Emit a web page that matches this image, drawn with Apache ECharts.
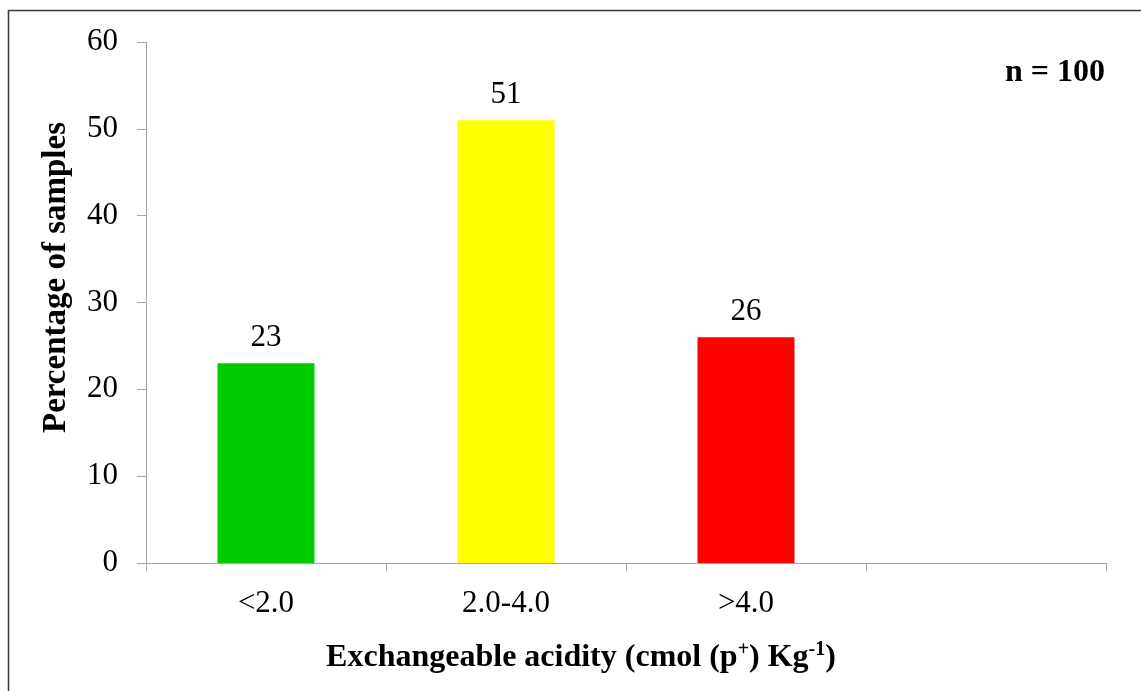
<!DOCTYPE html>
<html>
<head>
<meta charset="utf-8">
<script src="https://cdn.jsdelivr.net/npm/echarts@6/dist/echarts.min.js"></script>
<style>html,body{margin:0;padding:0;background:#fff}#c{width:1141px;height:691px}</style>
</head>
<body>
<div id="c"></div>
<script>
var categories = ['<2.0', '2.0-4.0', '>4.0', ''];
var values = [23, 51, 26];
var barColors = ['#00cc00', '#ffff00', '#ff0000'];
var yTicks = [0, 10, 20, 30, 40, 50, 60];
var sampleNote = 'n = 100';

var FONT = '"Liberation Serif", "Times New Roman", serif';
var chart = echarts.init(document.getElementById('c'), null, {renderer: 'canvas'});
var data = values.map(function (v, i) {
  return {value: v, itemStyle: {color: barColors[i]}};
});
chart.setOption({
  animation: false,
  backgroundColor: '#ffffff',
  grid: {left: 146, top: 42, right: 35, bottom: 128, containLabel: false},
  xAxis: {
    type: 'category',
    data: categories,
    boundaryGap: true,
    axisLine: {show: true, lineStyle: {color: '#a6a6a6', width: 1}},
    axisTick: {show: true, interval: 0, length: 8, lineStyle: {color: '#a6a6a6'}},
    axisLabel: {interval: 0, margin: 25, fontFamily: FONT, fontSize: 31, color: '#000'},
    name: '{b|Exchangeable acidity (cmol (p}{s|+}{b|) Kg}{s|-1}{b|)}',
    nameLocation: 'middle',
    nameGap: 77,
    nameTextStyle: {
      fontFamily: FONT,
      padding: [0, 90, 0, 0],
      rich: {
        b: {fontFamily: FONT, fontSize: 32, fontWeight: 'bold', color: '#000', verticalAlign: 'bottom', lineHeight: 34},
        s: {fontFamily: FONT, fontSize: 20, fontWeight: 'bold', color: '#000', verticalAlign: 'top', lineHeight: 34, padding: [0, 0, 10, 0]}
      }
    }
  },
  yAxis: {
    type: 'value',
    min: 0,
    max: 60,
    interval: 10,
    axisLine: {show: true, lineStyle: {color: '#a6a6a6', width: 1}},
    axisTick: {show: true, length: 9, lineStyle: {color: '#a6a6a6'}},
    splitLine: {show: false},
    axisLabel: {margin: 28, fontFamily: FONT, fontSize: 31, color: '#000',
      formatter: function (v) { return yTicks.indexOf(v) >= 0 ? String(v) : ''; }},
    name: 'Percentage of samples',
    nameLocation: 'middle',
    nameGap: 73,
    nameTextStyle: {fontFamily: FONT, fontSize: 33, fontWeight: 'bold', color: '#000', padding: [0, 0, 0, 50]}
  },
  series: [{
    type: 'bar',
    data: data,
    barWidth: 97,
    label: {show: true, position: 'top', distance: 10, fontFamily: FONT, fontSize: 31, color: '#000'}
  }],
  graphic: [
    {type: 'rect', shape: {x: 8.5, y: 10.5, width: 1200, height: 800},
      style: {fill: 'none', stroke: '#3a3a3a', lineWidth: 1.5}, silent: true},
    {type: 'text', x: 1105, y: 73,
      style: {text: sampleNote, fontFamily: FONT, fontSize: 32, fontWeight: 'bold', fill: '#000', align: 'right', verticalAlign: 'middle'}}
  ]
});
</script>
</body>
</html>
